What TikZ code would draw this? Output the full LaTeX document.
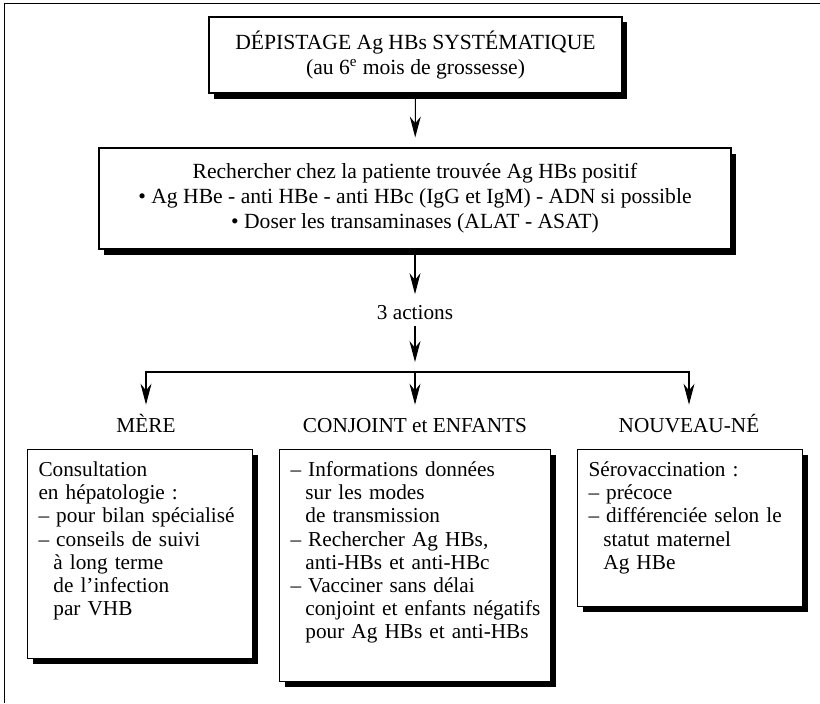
\documentclass[tikz,border=0pt]{standalone}
\usepackage{fontspec}
\setmainfont{Liberation Serif}
\usepackage{tikz}
\usetikzlibrary{arrows.meta}
\usetikzlibrary{shadows}

\newcommand{\retrait}{\hspace*{0.7em}}

\begin{document}
\begin{tikzpicture}[
  >={Stealth[length=0.42cm,width=0.22cm]},
  every node/.style={font=\fontsize{12.1}{13.2}\selectfont},
  boite/.style={draw,fill=white,line width=0.6pt,inner sep=0pt,
    drop shadow={shadow xshift=0.1cm,shadow yshift=-0.11cm,opacity=1,fill=black}},
  titre/.style={boite,align=center,font=\fontsize{12.3}{14.2}\selectfont},
  cadre/.style={boite,anchor=north west,align=left,inner xsep=0.22cm,
    inner ysep=0.24cm,text height=0.3cm},
  etiquette/.style={anchor=base,text height=0.3cm,text depth=0.05cm,inner sep=0.1cm}
]
  \useasboundingbox (0,0) rectangle (16.4,-14.06);
  \draw[line width=0.8pt] (0.09,-14.06) -- (0.09,-0.07) -- (16.4,-0.07);

  \node[titre,minimum width=8.26cm,minimum height=1.52cm] (depistage) at (8.31,-1.1)
  {DÉPISTAGE Ag HBs SYSTÉMATIQUE\\(au 6\textsuperscript{e} mois de grossesse)};

  \node[titre,minimum width=12.64cm,minimum height=2.02cm] (recherche) at (8.3,-3.97)
  {Rechercher chez la patiente trouvée Ag HBs positif\\
   \textbullet{} Ag HBe - anti HBe - anti HBc (IgG et IgM) - ADN si possible\\
   \textbullet{} Doser les transaminases (ALAT - ASAT)};

  \node (actions) at (8.3,-6.25) {3 actions};
  \coordinate (fourche) at (8.3,-7.44);

  \node[etiquette] (mere) at (2.92,-8.64) {MÈRE};
  \node[etiquette] (conjoint) at (8.3,-8.64) {CONJOINT et ENFANTS};
  \node[etiquette] (nouveau) at (13.78,-8.64) {NOUVEAU-NÉ};

  \node[cadre,text width=4.06cm,text depth=3.4cm] (consult) at (0.54,-8.98)
  {Consultation\\
   en hépatologie :\\
   -- pour bilan spécialisé\\
   -- conseils de suivi\\
   \retrait à long terme\\
   \retrait de l'infection\\
   \retrait par VHB};

  \node[cadre,text width=4.98cm,text depth=3.86cm] (infos) at (5.58,-8.98)
  {-- Informations données\\
   \retrait sur les modes\\
   \retrait de transmission\\
   -- Rechercher Ag HBs,\\
   \retrait anti-HBs et anti-HBc\\
   -- Vacciner sans délai\\
   \retrait\mbox{conjoint et enfants négatifs}\\
   \retrait pour Ag HBs et anti-HBs};

  \node[cadre,text width=4.06cm,text depth=2.36cm] (serovac) at (11.54,-8.98)
  {Sérovaccination :\\
   -- précoce\\
   -- différenciée selon le\\
   \retrait statut maternel\\
   \retrait Ag HBe};

  % fleches
  \draw[->,line width=0.6pt,shorten >=0.2cm] (depistage) -- (recherche);
  \draw[->,line width=0.6pt,shorten >=0.1cm] (recherche) -- (actions);
  \draw[->,line width=0.6pt,shorten >=0.2cm] (actions) -- (fourche);
  \draw[->,line width=0.6pt,shorten >=0.14cm] (fourche) -| (mere);
  \draw[->,line width=0.6pt,shorten >=0.14cm] (fourche) -- (conjoint);
  \draw[->,line width=0.6pt,shorten >=0.14cm] (fourche) -| (nouveau);

\end{tikzpicture}
\end{document}
